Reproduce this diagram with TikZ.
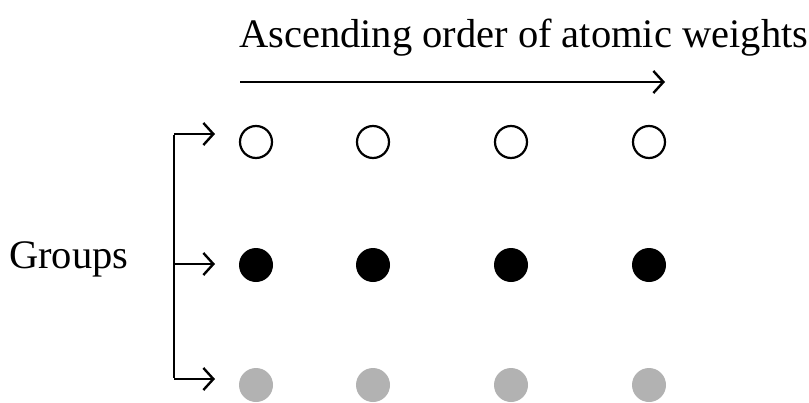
\documentclass[tikz,border=0pt]{standalone}
\usepackage{fontspec}
\setmainfont{Liberation Serif}
\usetikzlibrary{arrows.meta}
\definecolor{dotgray}{RGB}{178,178,178}
\tikzset{
  lbl/.style={inner sep=0pt, font=\fontsize{40.5}{44}\selectfont},
  conn/.style={line width=2.6pt, -{Straight Barb[length=10pt,width=22pt,line width=2.4pt]}},
  atom/.style={circle, minimum size=34pt, inner sep=0pt},
  openatom/.style={atom, draw=black, line width=2.2pt, fill=white, minimum size=32pt},
  blackatom/.style={atom, fill=black},
  grayatom/.style={atom, fill=dotgray},
}
\begin{document}
\begin{tikzpicture}[x=1pt,y=-1pt]
\useasboundingbox (0,0) rectangle (809,402);
\node[lbl, anchor=base west] (title) at (239,47) {Ascending order of atomic weights};
\node[lbl, anchor=base west] (groups) at (9,268) {Groups};
\coordinate (hs) at (240,82);
\coordinate (he) at (665,82);
\draw[conn] (hs) -- (he);
% bracket
\coordinate (bt) at (174,134);
\coordinate (bm) at (174,264);
\coordinate (bb) at (174,379);
\coordinate (tt) at (215,134);
\coordinate (tm) at (215,264);
\coordinate (tb) at (215,379);
\draw[line width=2.6pt] ([yshift=-1.3pt]bt) -- ([yshift=1.3pt]bb);
\draw[conn] (bt) -- (tt);
\draw[conn] (bm) -- (tm);
\draw[conn] (bb) -- (tb);
% atoms
\foreach \x/\n in {256/1,373/2,511/3,649/4}{
  \node[openatom] (o\n) at (\x,142) {};
  \node[blackatom] (b\n) at (\x,265) {};
  \node[grayatom] (g\n) at (\x,385) {};
}
\end{tikzpicture}
\end{document}
